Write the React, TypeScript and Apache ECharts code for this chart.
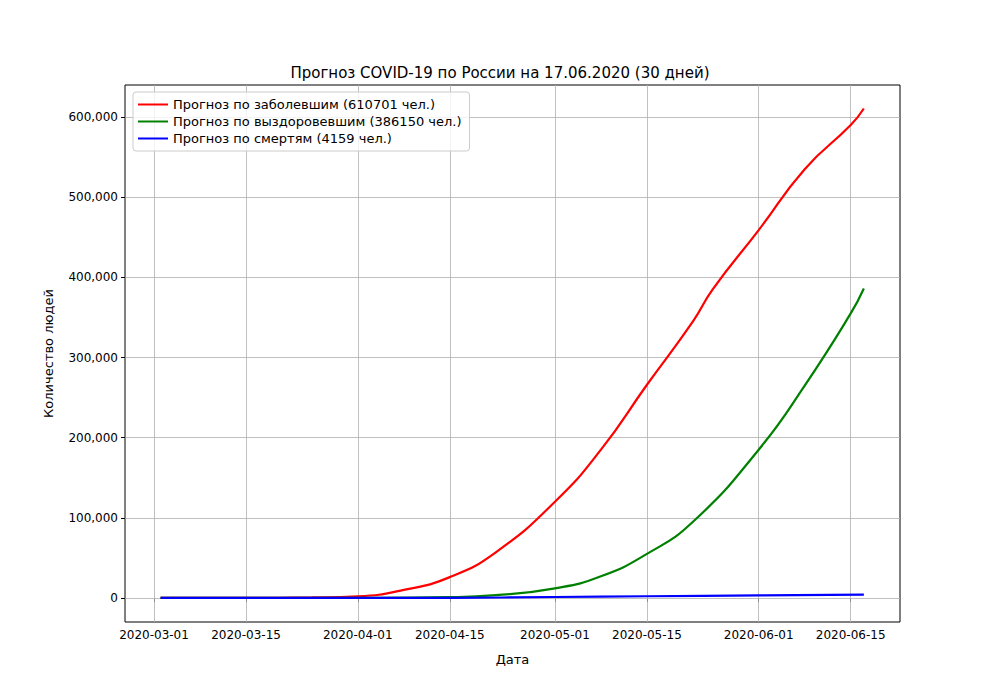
import * as echarts from "echarts";
import { useEffect, useRef } from "react";

const d = (s: string) => Date.parse(s + "T00:00:00Z");

const infectedDates = ["2020-03-02", "2020-03-15", "2020-03-25", "2020-04-01", "2020-04-08", "2020-04-15", "2020-04-22", "2020-05-01", "2020-05-08", "2020-05-15", "2020-05-22", "2020-05-25", "2020-06-01", "2020-06-08", "2020-06-15", "2020-06-17"];
const infected = [0, 100, 600, 2000, 10000, 26000, 57000, 120000, 185000, 266000, 345000, 385000, 459000, 535000, 590000, 610701];

const recoveredDates = ["2020-03-02", "2020-04-01", "2020-04-15", "2020-04-22", "2020-05-01", "2020-05-08", "2020-05-15", "2020-05-22", "2020-06-01", "2020-06-08", "2020-06-15", "2020-06-17"];
const recovered = [0, 200, 1000, 3500, 12000, 27000, 55000, 95000, 185000, 265000, 355000, 386150];

const deathDates = ["2020-03-02", "2020-04-01", "2020-04-15", "2020-05-01", "2020-05-15", "2020-06-01", "2020-06-17"];
const deaths = [0, 30, 200, 1200, 2100, 3300, 4159];

const xTicks = ["2020-03-01", "2020-03-15", "2020-04-01", "2020-04-15", "2020-05-01", "2020-05-15", "2020-06-01", "2020-06-15"];
const yTicks = [0, 100000, 200000, 300000, 400000, 500000, 600000];

const pad = (n: number) => String(n).padStart(2, "0");
const fmt = (v: number) => {
  const t = new Date(v);
  return `${t.getUTCFullYear()}-${pad(t.getUTCMonth() + 1)}-${pad(t.getUTCDate())}`;
};

export default function App() {
  const ref = useRef<HTMLDivElement>(null);
  useEffect(() => {
    document.body.style.margin = "0";
    const chart = echarts.init(ref.current!, undefined, { renderer: "svg" });
    const font = "DejaVu Sans";
    const grid = { color: "#b0b0b0", width: 0.8, type: "solid" as const };
    const mk = (dates: string[], vals: number[]) => dates.map((s, i) => [d(s), vals[i]]);
    chart.setOption({
      animation: false,
      textStyle: { fontFamily: font },
      title: {
        text: "Прогноз COVID-19 по России на 17.06.2020 (30 дней)",
        left: "center",
        top: 60,
        textStyle: { fontSize: 15, fontWeight: "normal", color: "#000", fontFamily: font },
      },
      grid: { left: 125, right: 100, top: 85, bottom: 78, show: true, borderColor: "#000", borderWidth: 1, containLabel: false },
      legend: {
        left: 133,
        top: 92,
        orient: "vertical",
        itemGap: 4,
        itemWidth: 30,
        itemHeight: 2,
        icon: "rect",
        padding: [6, 8, 6, 5],
        borderColor: "#ccc",
        borderWidth: 1,
        borderRadius: 3,
        backgroundColor: "rgba(255,255,255,0.8)",
        textStyle: { fontSize: 13, color: "#000", fontFamily: font },
      },
      xAxis: {
        type: "value",
        min: d("2020-02-25") + 14 * 3600e3,
        max: d("2020-06-22") + 12 * 3600e3,
        axisLine: { show: false },
        splitLine: { show: false },
        axisTick: { show: true, length: 4, customValues: xTicks.map(d), lineStyle: { color: "#000" } },
        axisLabel: { customValues: xTicks.map(d), formatter: fmt, color: "#000", fontSize: 12, margin: 7 },
        name: "Дата",
        nameLocation: "middle",
        nameGap: 31,
        nameTextStyle: { fontSize: 13, color: "#000" },
      },
      yAxis: {
        type: "value",
        min: -30000,
        max: 640000,
        axisLine: { show: false },
        splitLine: { show: false },
        axisTick: { show: true, length: 4, customValues: yTicks, lineStyle: { color: "#000" } },
        axisLabel: { customValues: yTicks, color: "#000", fontSize: 12, margin: 7 },
        name: "Количество людей",
        nameLocation: "middle",
        nameGap: 70,
        nameTextStyle: { fontSize: 13, color: "#000" },
      },
      series: [
        {
          name: "Прогноз по заболевшим (610701 чел.)",
          type: "line",
          smooth: true,
          showSymbol: false,
          color: "#ff0000",
          lineStyle: { width: 2.2 },
          data: mk(infectedDates, infected),
          z: 3,
          markLine: {
            silent: true,
            symbol: "none",
            label: { show: false },
            lineStyle: grid,
            data: [...xTicks.map((t) => ({ xAxis: d(t) })), ...yTicks.map((v) => ({ yAxis: v }))],
            z: 1,
          },
        },
        {
          name: "Прогноз по выздоровевшим (386150 чел.)",
          type: "line",
          smooth: true,
          showSymbol: false,
          color: "#008000",
          lineStyle: { width: 2.2 },
          data: mk(recoveredDates, recovered),
          z: 3,
        },
        {
          name: "Прогноз по смертям (4159 чел.)",
          type: "line",
          smooth: true,
          showSymbol: false,
          color: "#0000ff",
          lineStyle: { width: 2.2 },
          data: mk(deathDates, deaths),
          z: 3,
        },
      ],
    });
    return () => chart.dispose();
  }, []);
  return <div ref={ref} style={{ width: 1000, height: 700 }} />;
}
